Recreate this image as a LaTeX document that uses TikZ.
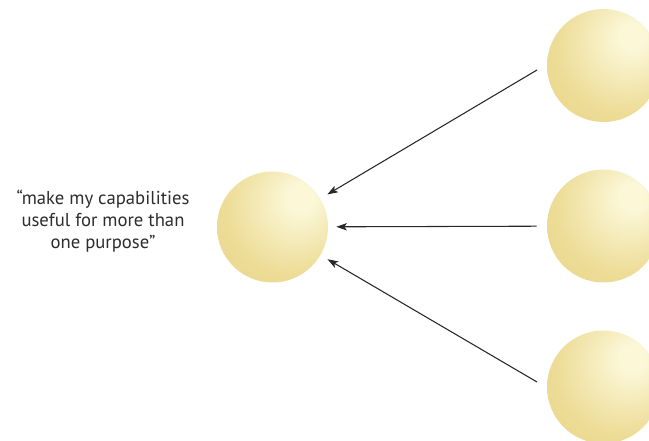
\documentclass[tikz,border=0pt]{standalone}
\usepackage{fontspec}
\setmainfont{PT Sans}
\usetikzlibrary{arrows.meta}
\definecolor{hl}{RGB}{251,247,215}
\definecolor{base}{RGB}{237,220,150}
\definecolor{edge}{RGB}{230,209,130}
\definecolor{txt}{RGB}{45,45,45}
\definecolor{arr}{RGB}{40,40,40}
\pgfdeclareradialshading{ballY}{\pgfpoint{14bp}{14bp}}{color(0bp)=(hl); color(6bp)=(hl); color(30bp)=(base); color(55bp)=(edge); color(75bp)=(edge)}
\begin{document}
\begin{tikzpicture}[x=0.75pt,y=-0.75pt,
  ball/.style={circle,shading=ballY,minimum size=#1*0.75pt,inner sep=0pt},
  link/.style={draw=arr,line width=0.8pt,-{Stealth[length=8pt,width=5.5pt,inset=2pt]},shorten >=6pt}]
\clip (0,0) rectangle (649,441);
\fill[white] (0,0) rectangle (649,441);
\node[ball=111] (c) at (272.5,227) {};
\node[ball=113] (r1) at (603.5,65.5) {};
\node[ball=113] (r2) at (603.5,226) {};
\node[ball=113] (r3) at (603.5,387) {};
\coordinate (a1) at (537,70);
\coordinate (a3) at (537,382);
\node[align=center,text=txt,font=\fontsize{14pt}{16.5pt}\selectfont] (t) at (103,221)
  {“make my capabilities\\useful for more than\\one purpose”};
\draw[link] (a1) -- (c);
\draw[link,shorten <=7.5pt] (r2) -- (c);
\draw[link] (a3) -- (c);
\end{tikzpicture}
\end{document}
